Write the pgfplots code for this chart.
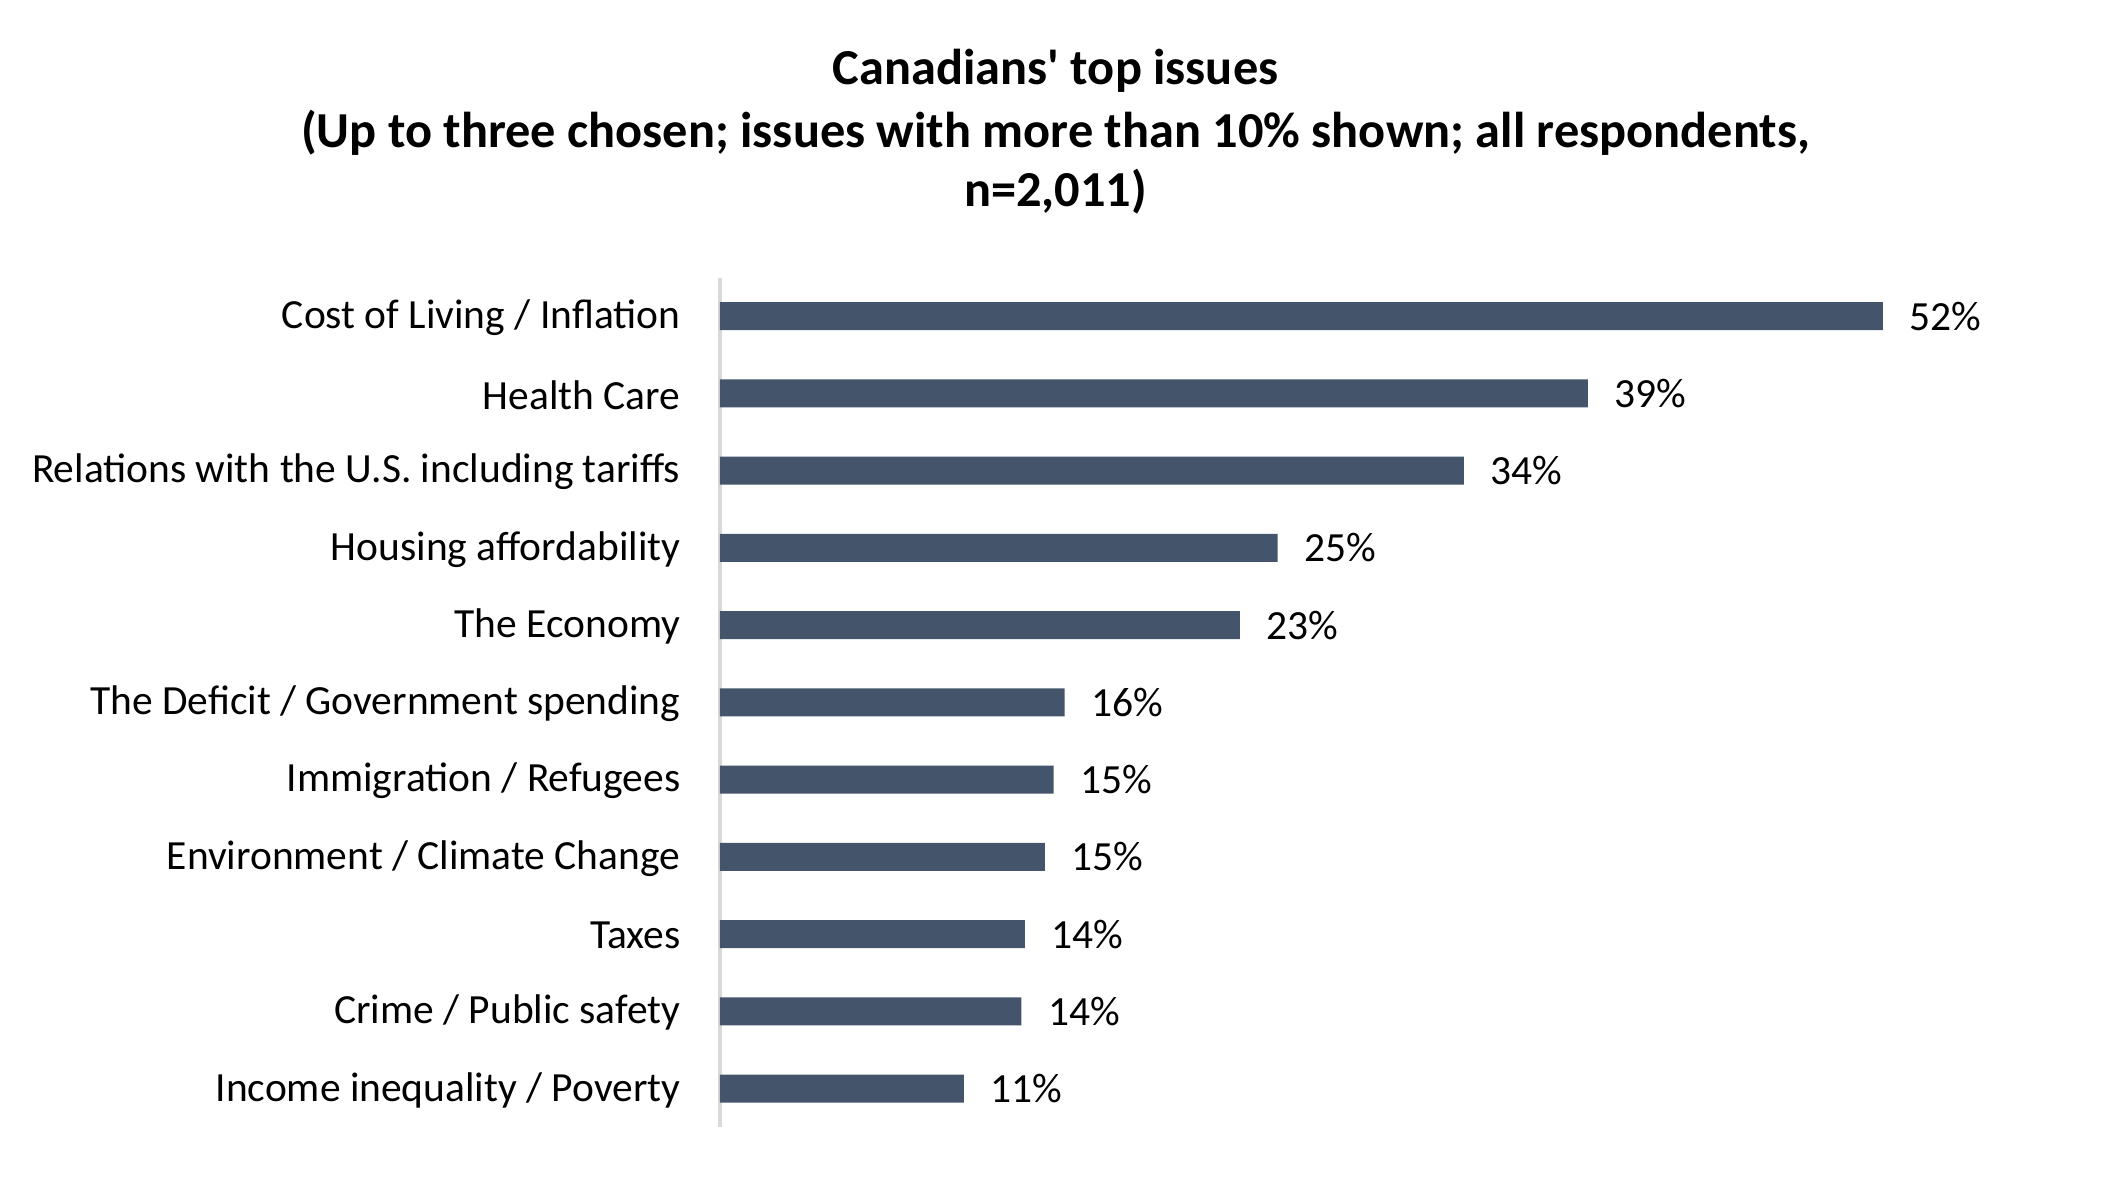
\documentclass[border=0pt]{standalone}
\usepackage{pgfplots}
\pgfplotsset{compat=1.18}
\usepackage{pgfplotstable}
\usepackage{fontspec}
\setmainfont{Carlito}[Ligatures=TeXOff]
\definecolor{barblue}{HTML}{44546A}
\definecolor{axisgray}{HTML}{D9D9D9}

% bar lengths, labels as printed
\pgfplotstableread{
y x lab
0 52.45 52
1 39.15 39
2 33.55 34
3 25.15 25
4 23.45 23
5 15.55 16
6 15.05 15
7 14.65 15
8 13.75 14
9 13.60 14
10 11.00 11
}\issues

\begin{document}
\begin{tikzpicture}
\path[use as bounding box] (0,0) rectangle (568.62pt,318.33pt);
\begin{scope}[every node/.style={font=\fontsize{13.6}{16}\selectfont\bfseries, anchor=base, inner sep=0pt}]
\node at (285pt,295.6pt) {Canadians' top issues};
\node at (285pt,278.6pt) {(Up to three chosen; issues with more than 10\% shown; all respondents,};
\node at (285pt,262.7pt) {n=2,011)};
\end{scope}
\begin{axis}[
  at={(194.4pt,14.0pt)}, anchor=south west,
  scale only axis, width=359.15pt, height=229.4pt,
  xbar, bar width=7.56pt,
  xmin=0, xmax=60, ymin=-0.5, ymax=10.5, y dir=reverse,
  axis x line=none, axis y line*=left,
  y axis line style={draw=axisgray, line width=0.9pt},
  ytick={0,...,10},
  yticklabels={Cost of Living / Inflation, Health Care,
    Relations with the U.S. including tariffs, Housing affordability,
    The Economy, The Deficit / Government spending, Immigration / Refugees,
    Environment / Climate Change, Taxes, Crime / Public safety,
    Income inequality / Poverty},
  major tick length=0pt,
  yticklabel style={font=\fontsize{11.2}{13}\selectfont, anchor=east, inner sep=0pt, xshift=-10.5pt, yshift=-0.4pt},
  point meta=explicit symbolic,
  nodes near coords={\pgfplotspointmeta\%},
  nodes near coords style={font=\fontsize{11.2}{13}\selectfont, anchor=west, inner sep=0pt, xshift=7pt},
  clip=false,
]
\addplot[fill=barblue, draw=none] table[x=x, y=y, meta=lab] {\issues};
\end{axis}
\end{tikzpicture}
\end{document}
